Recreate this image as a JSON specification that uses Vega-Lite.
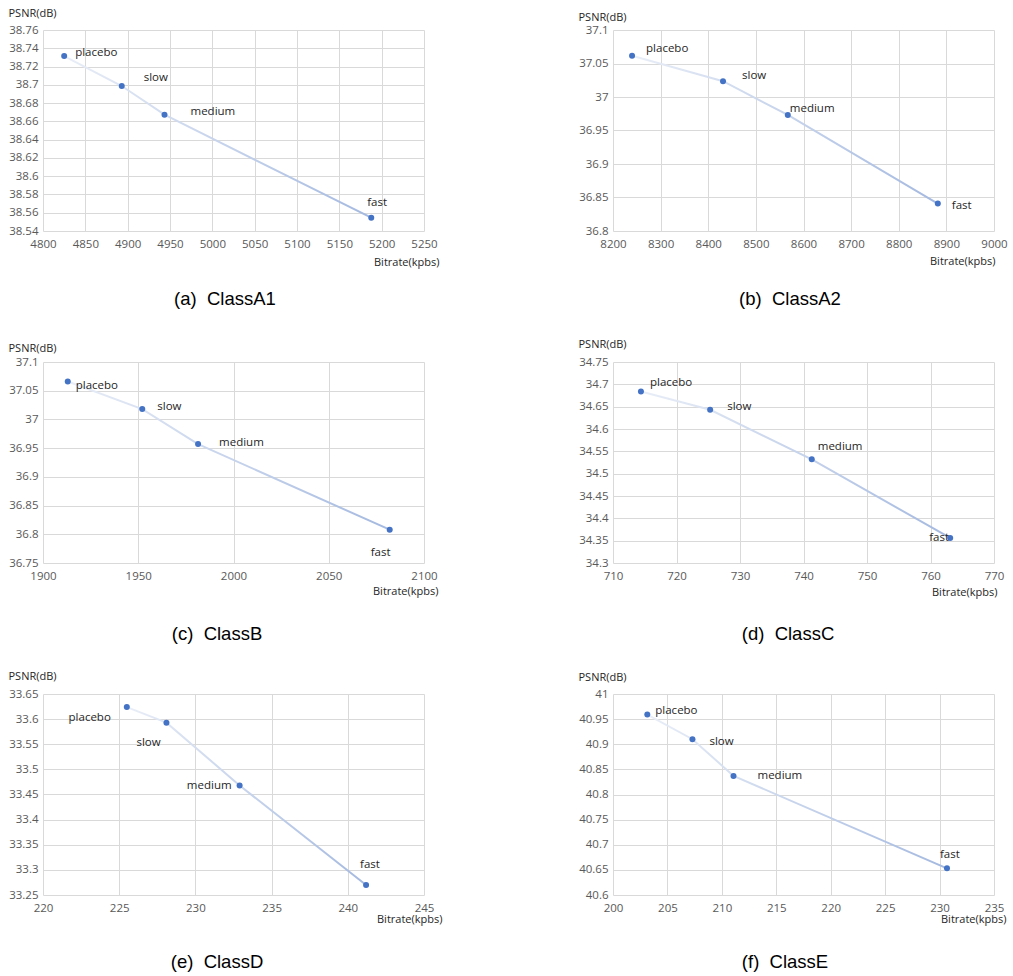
{
"$schema": "https://vega.github.io/schema/vega-lite/v6.json",
"padding": {"left": 8, "top": 7, "right": 2, "bottom": 2},
"columns": 2,
"spacing": {"row": 131, "column": 189},
"bounds": "flush",
"config": {
  "view": {"stroke": null},
  "font": "Open Sans",
  "axis": {"grid": true, "gridColor": "#d9d9d9", "gridWidth": 1, "domain": false, "ticks": false, "labelFont": "Open Sans", "labelFontSize": 11.5, "labelColor": "#595959", "titleFont": "Open Sans", "titleFontSize": 11, "titleFontWeight": "normal", "titleColor": "#262626", "labelFlush": false, "labelOverlap": false},
  "axisX": {"labelPadding": 7, "titleAlign": "right", "titleBaseline": "middle", "titleAngle": 0},
  "axisY": {"labelPadding": 5, "titleAlign": "left", "titleBaseline": "middle", "titleAngle": 0, "titleX": -35},
  "title": {"font": "Liberation Sans", "fontSize": 18.5, "fontWeight": "normal", "color": "#000000", "orient": "bottom", "anchor": "middle", "frame": "group", "baseline": "middle"},
  "text": {"font": "Open Sans", "fontSize": 11.5, "color": "#262626", "baseline": "middle", "align": "left"},
  "circle": {"size": 36, "color": "#4472C4", "opacity": 1},
  "line": {"strokeWidth": 2}
},
"concat": [
{
  "width": 381, "height": 201,
  "title": {"text": "(a)\u00a0 ClassA1", "dx": -8.5, "offset": 22.5},
  "data": {"values": [
    {"preset": "placebo", "bitrate": 4825, "psnr": 38.7315},
    {"preset": "slow", "bitrate": 4893, "psnr": 38.6987},
    {"preset": "medium", "bitrate": 4943.5, "psnr": 38.6673},
    {"preset": "fast", "bitrate": 5187.7, "psnr": 38.5546}]},
  "encoding": {
    "x": {"field": "bitrate", "type": "quantitative", "scale": {"domain": [4800, 5250], "nice": false, "zero": false},
      "axis": {"title": "Bitrate(kpbs)", "values": [4800, 4850, 4900, 4950, 5000, 5050, 5100, 5150, 5200, 5250], "format": "d", "titleX": 396, "titleY": 31}},
    "y": {"field": "psnr", "type": "quantitative", "scale": {"domain": [38.54, 38.76], "nice": false, "zero": false},
      "axis": {"title": "PSNR(dB)", "values": [38.54, 38.56, 38.58, 38.6, 38.62, 38.64, 38.66, 38.68, 38.7, 38.72, 38.74, 38.76], "format": ".3~f", "titleY": -17}}
  },
  "layer": [
    {"mark": {"type": "line", "stroke": {"gradient": "linear", "x1": 0, "y1": 0, "x2": 1, "y2": 0, "stops": [{"offset": 0, "color": "#e9eef7"}, {"offset": 1, "color": "#a4b9e0"}]}}},
    {"transform": [{"filter": {"field": "preset", "equal": "placebo"}}], "mark": {"type": "text", "dx": 11, "dy": -3}, "encoding": {"text": {"field": "preset"}}},
    {"transform": [{"filter": {"field": "preset", "equal": "slow"}}], "mark": {"type": "text", "dx": 22, "dy": -8}, "encoding": {"text": {"field": "preset"}}},
    {"transform": [{"filter": {"field": "preset", "equal": "medium"}}], "mark": {"type": "text", "dx": 26, "dy": -3}, "encoding": {"text": {"field": "preset"}}},
    {"transform": [{"filter": {"field": "preset", "equal": "fast"}}], "mark": {"type": "text", "dx": -4, "dy": -15}, "encoding": {"text": {"field": "preset"}}},
    {"mark": {"type": "circle"}}
  ]
},
{
  "width": 381, "height": 201,
  "title": {"text": "(b)\u00a0 ClassA2", "dx": -13.5, "offset": 24},
  "data": {"values": [
    {"preset": "placebo", "bitrate": 8240, "psnr": 37.0615},
    {"preset": "slow", "bitrate": 8431, "psnr": 37.0236},
    {"preset": "medium", "bitrate": 8567, "psnr": 36.9732},
    {"preset": "fast", "bitrate": 8882, "psnr": 36.841}]},
  "encoding": {
    "x": {"field": "bitrate", "type": "quantitative", "scale": {"domain": [8200, 9000], "nice": false, "zero": false},
      "axis": {"title": "Bitrate(kpbs)", "values": [8200, 8300, 8400, 8500, 8600, 8700, 8800, 8900, 9000], "format": "d", "titleX": 382, "titleY": 30}},
    "y": {"field": "psnr", "type": "quantitative", "scale": {"domain": [36.8, 37.1], "nice": false, "zero": false},
      "axis": {"title": "PSNR(dB)", "values": [36.8, 36.85, 36.9, 36.95, 37, 37.05, 37.1], "format": ".3~f", "titleY": -13}}
  },
  "layer": [
    {"mark": {"type": "line", "stroke": {"gradient": "linear", "x1": 0, "y1": 0, "x2": 1, "y2": 0, "stops": [{"offset": 0, "color": "#e9eef7"}, {"offset": 1, "color": "#a4b9e0"}]}}},
    {"transform": [{"filter": {"field": "preset", "equal": "placebo"}}], "mark": {"type": "text", "dx": 14, "dy": -7}, "encoding": {"text": {"field": "preset"}}},
    {"transform": [{"filter": {"field": "preset", "equal": "slow"}}], "mark": {"type": "text", "dx": 19, "dy": -5}, "encoding": {"text": {"field": "preset"}}},
    {"transform": [{"filter": {"field": "preset", "equal": "medium"}}], "mark": {"type": "text", "dx": 2, "dy": -6}, "encoding": {"text": {"field": "preset"}}},
    {"transform": [{"filter": {"field": "preset", "equal": "fast"}}], "mark": {"type": "text", "dx": 14, "dy": 2}, "encoding": {"text": {"field": "preset"}}},
    {"mark": {"type": "circle"}}
  ]
},
{
  "width": 381, "height": 201,
  "title": {"text": "(c)\u00a0 ClassB", "dx": -16.5, "offset": 29},
  "data": {"values": [
    {"preset": "placebo", "bitrate": 1913, "psnr": 37.066},
    {"preset": "slow", "bitrate": 1952.1, "psnr": 37.018},
    {"preset": "medium", "bitrate": 1981.4, "psnr": 36.957},
    {"preset": "fast", "bitrate": 2082, "psnr": 36.808}]},
  "encoding": {
    "x": {"field": "bitrate", "type": "quantitative", "scale": {"domain": [1900, 2100], "nice": false, "zero": false},
      "axis": {"title": "Bitrate(kpbs)", "values": [1900, 1950, 2000, 2050, 2100], "format": "d", "titleX": 395, "titleY": 28}},
    "y": {"field": "psnr", "type": "quantitative", "scale": {"domain": [36.75, 37.1], "nice": false, "zero": false},
      "axis": {"title": "PSNR(dB)", "values": [36.75, 36.8, 36.85, 36.9, 36.95, 37, 37.05, 37.1], "format": ".3~f", "titleY": -14}}
  },
  "layer": [
    {"mark": {"type": "line", "stroke": {"gradient": "linear", "x1": 0, "y1": 0, "x2": 1, "y2": 0, "stops": [{"offset": 0, "color": "#e9eef7"}, {"offset": 1, "color": "#a4b9e0"}]}}},
    {"transform": [{"filter": {"field": "preset", "equal": "placebo"}}], "mark": {"type": "text", "dx": 8, "dy": 4}, "encoding": {"text": {"field": "preset"}}},
    {"transform": [{"filter": {"field": "preset", "equal": "slow"}}], "mark": {"type": "text", "dx": 15, "dy": -2}, "encoding": {"text": {"field": "preset"}}},
    {"transform": [{"filter": {"field": "preset", "equal": "medium"}}], "mark": {"type": "text", "dx": 21, "dy": -1}, "encoding": {"text": {"field": "preset"}}},
    {"transform": [{"filter": {"field": "preset", "equal": "fast"}}], "mark": {"type": "text", "dx": -19, "dy": 23}, "encoding": {"text": {"field": "preset"}}},
    {"mark": {"type": "circle"}}
  ]
},
{
  "width": 381, "height": 201,
  "title": {"text": "(d)\u00a0 ClassC", "dx": -15.5, "offset": 28},
  "data": {"values": [
    {"preset": "placebo", "bitrate": 714.4, "psnr": 34.684},
    {"preset": "slow", "bitrate": 725.3, "psnr": 34.643},
    {"preset": "medium", "bitrate": 741.3, "psnr": 34.532},
    {"preset": "fast", "bitrate": 763.1, "psnr": 34.356}]},
  "encoding": {
    "x": {"field": "bitrate", "type": "quantitative", "scale": {"domain": [710, 770], "nice": false, "zero": false},
      "axis": {"title": "Bitrate(kpbs)", "values": [710, 720, 730, 740, 750, 760, 770], "format": "d", "titleX": 384, "titleY": 29}},
    "y": {"field": "psnr", "type": "quantitative", "scale": {"domain": [34.3, 34.75], "nice": false, "zero": false},
      "axis": {"title": "PSNR(dB)", "values": [34.3, 34.35, 34.4, 34.45, 34.5, 34.55, 34.6, 34.65, 34.7, 34.75], "format": ".3~f", "titleY": -18}}
  },
  "layer": [
    {"mark": {"type": "line", "stroke": {"gradient": "linear", "x1": 0, "y1": 0, "x2": 1, "y2": 0, "stops": [{"offset": 0, "color": "#e9eef7"}, {"offset": 1, "color": "#a4b9e0"}]}}},
    {"transform": [{"filter": {"field": "preset", "equal": "placebo"}}], "mark": {"type": "text", "dx": 9, "dy": -8}, "encoding": {"text": {"field": "preset"}}},
    {"transform": [{"filter": {"field": "preset", "equal": "slow"}}], "mark": {"type": "text", "dx": 17, "dy": -3}, "encoding": {"text": {"field": "preset"}}},
    {"transform": [{"filter": {"field": "preset", "equal": "medium"}}], "mark": {"type": "text", "dx": 6, "dy": -12}, "encoding": {"text": {"field": "preset"}}},
    {"transform": [{"filter": {"field": "preset", "equal": "fast"}}], "mark": {"type": "text", "dx": -21, "dy": 0}, "encoding": {"text": {"field": "preset"}}},
    {"mark": {"type": "circle"}}
  ]
},
{
  "width": 381, "height": 201,
  "title": {"text": "(e)\u00a0 ClassD", "dx": -16.5, "offset": 29},
  "data": {"values": [
    {"preset": "placebo", "bitrate": 225.5, "psnr": 33.624},
    {"preset": "slow", "bitrate": 228.1, "psnr": 33.593},
    {"preset": "medium", "bitrate": 232.9, "psnr": 33.468},
    {"preset": "fast", "bitrate": 241.2, "psnr": 33.27}]},
  "encoding": {
    "x": {"field": "bitrate", "type": "quantitative", "scale": {"domain": [220, 245], "nice": false, "zero": false},
      "axis": {"title": "Bitrate(kpbs)", "values": [220, 225, 230, 235, 240, 245], "format": "d", "titleX": 399, "titleY": 24}},
    "y": {"field": "psnr", "type": "quantitative", "scale": {"domain": [33.25, 33.65], "nice": false, "zero": false},
      "axis": {"title": "PSNR(dB)", "values": [33.25, 33.3, 33.35, 33.4, 33.45, 33.5, 33.55, 33.6, 33.65], "format": ".3~f", "titleY": -18}}
  },
  "layer": [
    {"mark": {"type": "line", "stroke": {"gradient": "linear", "x1": 0, "y1": 0, "x2": 1, "y2": 0, "stops": [{"offset": 0, "color": "#e9eef7"}, {"offset": 1, "color": "#a4b9e0"}]}}},
    {"transform": [{"filter": {"field": "preset", "equal": "placebo"}}], "mark": {"type": "text", "align": "right", "dx": -16, "dy": 11}, "encoding": {"text": {"field": "preset"}}},
    {"transform": [{"filter": {"field": "preset", "equal": "slow"}}], "mark": {"type": "text", "dx": -30, "dy": 20}, "encoding": {"text": {"field": "preset"}}},
    {"transform": [{"filter": {"field": "preset", "equal": "medium"}}], "mark": {"type": "text", "align": "right", "dx": -8, "dy": 1}, "encoding": {"text": {"field": "preset"}}},
    {"transform": [{"filter": {"field": "preset", "equal": "fast"}}], "mark": {"type": "text", "dx": -6, "dy": -20}, "encoding": {"text": {"field": "preset"}}},
    {"mark": {"type": "circle"}}
  ]
},
{
  "width": 381, "height": 201,
  "title": {"text": "(f)\u00a0 ClassE", "dx": -18.5, "offset": 29},
  "data": {"values": [
    {"preset": "placebo", "bitrate": 203.15, "psnr": 40.959},
    {"preset": "slow", "bitrate": 207.3, "psnr": 40.91},
    {"preset": "medium", "bitrate": 211.07, "psnr": 40.837},
    {"preset": "fast", "bitrate": 230.68, "psnr": 40.653}]},
  "encoding": {
    "x": {"field": "bitrate", "type": "quantitative", "scale": {"domain": [200, 235], "nice": false, "zero": false},
      "axis": {"title": "Bitrate(kpbs)", "values": [200, 205, 210, 215, 220, 225, 230, 235], "format": "d", "titleX": 393, "titleY": 24}},
    "y": {"field": "psnr", "type": "quantitative", "scale": {"domain": [40.6, 41], "nice": false, "zero": false},
      "axis": {"title": "PSNR(dB)", "values": [40.6, 40.65, 40.7, 40.75, 40.8, 40.85, 40.9, 40.95, 41], "format": ".3~f", "titleY": -17}}
  },
  "layer": [
    {"mark": {"type": "line", "stroke": {"gradient": "linear", "x1": 0, "y1": 0, "x2": 1, "y2": 0, "stops": [{"offset": 0, "color": "#e9eef7"}, {"offset": 1, "color": "#a4b9e0"}]}}},
    {"transform": [{"filter": {"field": "preset", "equal": "placebo"}}], "mark": {"type": "text", "dx": 8, "dy": -4}, "encoding": {"text": {"field": "preset"}}},
    {"transform": [{"filter": {"field": "preset", "equal": "slow"}}], "mark": {"type": "text", "dx": 17, "dy": 2.5}, "encoding": {"text": {"field": "preset"}}},
    {"transform": [{"filter": {"field": "preset", "equal": "medium"}}], "mark": {"type": "text", "dx": 24, "dy": 0}, "encoding": {"text": {"field": "preset"}}},
    {"transform": [{"filter": {"field": "preset", "equal": "fast"}}], "mark": {"type": "text", "dx": -7, "dy": -13.5}, "encoding": {"text": {"field": "preset"}}},
    {"mark": {"type": "circle"}}
  ]
}
]
}
